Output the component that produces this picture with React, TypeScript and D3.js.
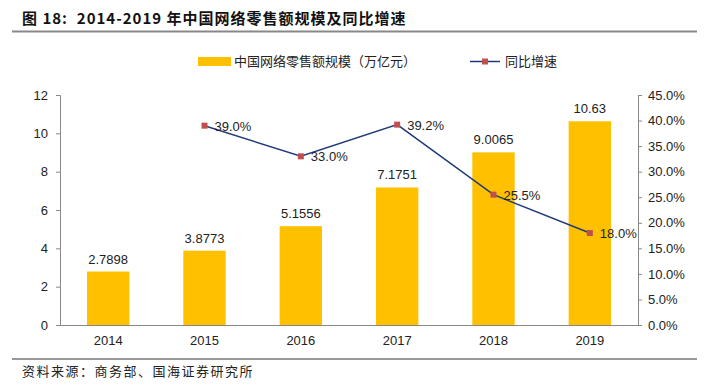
import React, { useEffect, useRef } from "react";
import * as d3 from "d3";

const years = ["2014", "2015", "2016", "2017", "2018", "2019"];
const salesValues = [2.7898, 3.8773, 5.1556, 7.1751, 9.0065, 10.63];
const salesLabels = ["2.7898", "3.8773", "5.1556", "7.1751", "9.0065", "10.63"];
const growthValues: (number | null)[] = [null, 39.0, 33.0, 39.2, 25.5, 18.0];
const leftTicks = [0, 2, 4, 6, 8, 10, 12];
const rightTicks = [0, 5, 10, 15, 20, 25, 30, 35, 40, 45];

const FONT = "'Liberation Sans', Arial, 'Noto Sans CJK SC', sans-serif";
const CJK = "'Noto Sans CJK SC', 'Liberation Sans', sans-serif";

const App = () => {
    const chartRef = useRef<SVGSVGElement>(null);

    useEffect(() => {
        const width = 721;
        const height = 386;
        const margin = { top: 95, right: 83, bottom: 61, left: 60 };

        const svg = d3.select(chartRef.current);
        svg.selectAll("*").remove();

        // title + rules
        svg.append("text")
            .attr("x", 22)
            .attr("y", 24)
            .attr("font-family", CJK)
            .attr("font-weight", "bold")
            .attr("font-size", 15)
            .attr("letter-spacing", 1)
            .style("white-space", "pre")
            .attr("fill", "#111")
            .text("图 18:  2014-2019 年中国网络零售额规模及同比增速");

        svg.append("line")
            .attr("x1", 12).attr("x2", 697)
            .attr("y1", 31.5).attr("y2", 31.5)
            .attr("stroke", "#888").attr("stroke-width", 2);

        svg.append("line")
            .attr("x1", 12).attr("x2", 697)
            .attr("y1", 359).attr("y2", 359)
            .attr("stroke", "#999").attr("stroke-width", 2);

        svg.append("text")
            .attr("x", 22)
            .attr("y", 376)
            .attr("font-family", CJK)
            .attr("font-size", 13)
            .attr("letter-spacing", 1.5)
            .attr("fill", "#222")
            .text("资料来源：商务部、国海证券研究所");

        const x = d3.scaleBand()
            .domain(years)
            .range([margin.left, width - margin.right])
            .paddingInner(0.56)
            .paddingOuter(0.28);

        const y = d3.scaleLinear()
            .domain([0, 12])
            .range([height - margin.bottom, margin.top]);

        const y2 = d3.scaleLinear()
            .domain([0, 45])
            .range([height - margin.bottom, margin.top]);

        const styleAxis = (g: any) => {
            g.select(".domain").attr("stroke", "#888");
            g.selectAll(".tick line").attr("stroke", "#888");
            g.selectAll(".tick text")
                .attr("font-family", FONT)
                .attr("font-size", 13)
                .attr("fill", "#222");
        };

        // bars
        svg.append("g")
            .selectAll("rect")
            .data(salesValues)
            .enter()
            .append("rect")
            .attr("x", (d, i) => x(years[i])!)
            .attr("y", d => y(d))
            .attr("width", x.bandwidth())
            .attr("height", d => y(0) - y(d))
            .attr("fill", "#FFC000");

        svg.append("g")
            .selectAll("text")
            .data(salesValues)
            .enter()
            .append("text")
            .attr("x", (d, i) => x(years[i])! + x.bandwidth() / 2)
            .attr("y", d => y(d) - 8)
            .attr("text-anchor", "middle")
            .attr("font-family", FONT)
            .attr("font-size", 13)
            .attr("fill", "#222")
            .text((d, i) => salesLabels[i]);

        // axes
        svg.append("g")
            .attr("transform", `translate(${margin.left},0)`)
            .call(d3.axisLeft(y).tickValues(leftTicks).tickSize(4).tickSizeOuter(4).tickPadding(8))
            .call(styleAxis);

        svg.append("g")
            .attr("transform", `translate(${width - margin.right},0)`)
            .call(d3.axisRight(y2).tickValues(rightTicks).tickSize(4).tickSizeOuter(4).tickPadding(6)
                .tickFormat(d => `${(+d).toFixed(1)}%`))
            .call(styleAxis);

        svg.append("g")
            .attr("transform", `translate(0,${y(0)})`)
            .call(d3.axisBottom(x).tickSize(0).tickPadding(11))
            .call(styleAxis);

        // growth line
        const pts = years
            .map((yr, i) => ({ yr, v: growthValues[i] }))
            .filter(d => d.v !== null) as { yr: string; v: number }[];
        const cx = (d: { yr: string }) => x(d.yr)! + x.bandwidth() / 2;

        const line = d3.line<{ yr: string; v: number }>()
            .x(cx)
            .y(d => y2(d.v));

        svg.append("path")
            .datum(pts)
            .attr("d", line)
            .attr("fill", "none")
            .attr("stroke", "#1F3A7A")
            .attr("stroke-width", 1.5);

        svg.append("g")
            .selectAll("rect")
            .data(pts)
            .enter()
            .append("rect")
            .attr("x", d => cx(d) - 3)
            .attr("y", d => y2(d.v) - 3)
            .attr("width", 6)
            .attr("height", 6)
            .attr("fill", "#C0504D");

        svg.append("g")
            .selectAll("text")
            .data(pts)
            .enter()
            .append("text")
            .attr("x", d => cx(d) + 10)
            .attr("y", d => y2(d.v) + 5)
            .attr("font-family", FONT)
            .attr("font-size", 13)
            .attr("fill", "#222")
            .text(d => `${d.v.toFixed(1)}%`);

        // legend
        svg.append("rect")
            .attr("x", 198).attr("y", 57)
            .attr("width", 33).attr("height", 9)
            .attr("fill", "#FFC000");
        svg.append("text")
            .attr("x", 234).attr("y", 66)
            .attr("font-family", CJK)
            .attr("font-size", 13)
            .attr("fill", "#222")
            .text("中国网络零售额规模（万亿元）");

        svg.append("line")
            .attr("x1", 470).attr("x2", 500)
            .attr("y1", 61.5).attr("y2", 61.5)
            .attr("stroke", "#1F3A7A").attr("stroke-width", 1.5);
        svg.append("rect")
            .attr("x", 482).attr("y", 58.5)
            .attr("width", 6).attr("height", 6)
            .attr("fill", "#C0504D");
        svg.append("text")
            .attr("x", 505).attr("y", 66)
            .attr("font-family", CJK)
            .attr("font-size", 13)
            .attr("fill", "#222")
            .text("同比增速");
    }, []);

    return (
        <svg
            ref={chartRef}
            width={721}
            height={386}
            style={{ position: "absolute", left: 0, top: 0, background: "#fff" }}
        />
    );
};

export default App;
